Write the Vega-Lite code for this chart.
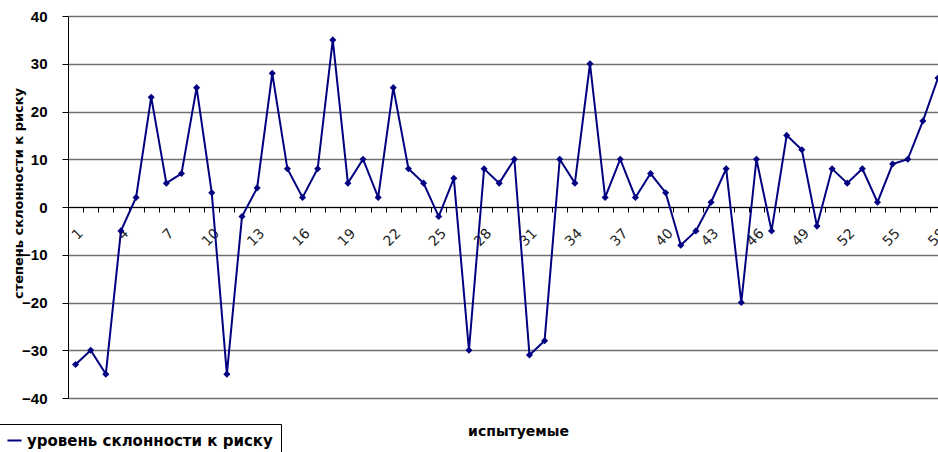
{
  "$schema": "https://vega.github.io/schema/vega-lite/v6.json",
  "autosize": {"type": "none"},
  "padding": {"left": 68, "top": 16, "right": 0, "bottom": 54},
  "width": 870,
  "height": 382,
  "data": {
    "values": [
      {"n": 1, "risk": -33}, {"n": 2, "risk": -30}, {"n": 3, "risk": -35},
      {"n": 4, "risk": -5}, {"n": 5, "risk": 2}, {"n": 6, "risk": 23},
      {"n": 7, "risk": 5}, {"n": 8, "risk": 7}, {"n": 9, "risk": 25},
      {"n": 10, "risk": 3}, {"n": 11, "risk": -35}, {"n": 12, "risk": -2},
      {"n": 13, "risk": 4}, {"n": 14, "risk": 28}, {"n": 15, "risk": 8},
      {"n": 16, "risk": 2}, {"n": 17, "risk": 8}, {"n": 18, "risk": 35},
      {"n": 19, "risk": 5}, {"n": 20, "risk": 10}, {"n": 21, "risk": 2},
      {"n": 22, "risk": 25}, {"n": 23, "risk": 8}, {"n": 24, "risk": 5},
      {"n": 25, "risk": -2}, {"n": 26, "risk": 6}, {"n": 27, "risk": -30},
      {"n": 28, "risk": 8}, {"n": 29, "risk": 5}, {"n": 30, "risk": 10},
      {"n": 31, "risk": -31}, {"n": 32, "risk": -28}, {"n": 33, "risk": 10},
      {"n": 34, "risk": 5}, {"n": 35, "risk": 30}, {"n": 36, "risk": 2},
      {"n": 37, "risk": 10}, {"n": 38, "risk": 2}, {"n": 39, "risk": 7},
      {"n": 40, "risk": 3}, {"n": 41, "risk": -8}, {"n": 42, "risk": -5},
      {"n": 43, "risk": 1}, {"n": 44, "risk": 8}, {"n": 45, "risk": -20},
      {"n": 46, "risk": 10}, {"n": 47, "risk": -5}, {"n": 48, "risk": 15},
      {"n": 49, "risk": 12}, {"n": 50, "risk": -4}, {"n": 51, "risk": 8},
      {"n": 52, "risk": 5}, {"n": 53, "risk": 8}, {"n": 54, "risk": 1},
      {"n": 55, "risk": 9}, {"n": 56, "risk": 10}, {"n": 57, "risk": 18},
      {"n": 58, "risk": 27}
    ]
  },
  "mark": {
    "type": "line",
    "strokeWidth": 2,
    "point": {"shape": "diamond", "size": 50, "filled": true, "opacity": 1}
  },
  "encoding": {
    "x": {
      "field": "n",
      "type": "quantitative",
      "title": "испытуемые",
      "scale": {"domain": [0.5, 58], "nice": false, "zero": false},
      "axis": {
        "offset": -191,
        "values": [0.5, 1, 1.5, 2.5, 3.5, 4, 4.5, 5.5, 6.5, 7, 7.5, 8.5, 9.5, 10, 10.5, 11.5, 12.5, 13, 13.5, 14.5, 15.5, 16, 16.5, 17.5, 18.5, 19, 19.5, 20.5, 21.5, 22, 22.5, 23.5, 24.5, 25, 25.5, 26.5, 27.5, 28, 28.5, 29.5, 30.5, 31, 31.5, 32.5, 33.5, 34, 34.5, 35.5, 36.5, 37, 37.5, 38.5, 39.5, 40, 40.5, 41.5, 42.5, 43, 43.5, 44.5, 45.5, 46, 46.5, 47.5, 48.5, 49, 49.5, 50.5, 51.5, 52, 52.5, 53.5, 54.5, 55, 55.5, 56.5, 57.5, 58],
        "format": ".1f",
        "labelExpr": "replace(datum.label, '.0', '')",
        "labelOpacity": {"condition": {"test": "datum.value % 1 !== 0", "value": 0}, "value": 1},
        "tickOpacity": {"condition": {"test": "datum.value % 1 === 0", "value": 0}, "value": 1},
        "tickSize": 5,
        "tickColor": "black",
        "domainColor": "black",
        "grid": false,
        "labelAngle": -45,
        "labelPadding": 14,
        "labelFontSize": 14,
        "labelColor": "#222",
        "labelOverlap": false,
        "labelFlush": false,
        "labelBound": false,
        "titleX": 450,
        "titleY": 224,
        "titleBaseline": "middle",
        "titleFontSize": 14,
        "titleFontWeight": "bold"
      }
    },
    "y": {
      "field": "risk",
      "type": "quantitative",
      "title": "степень склонности к риску",
      "scale": {"domain": [-40, 40], "nice": false},
      "axis": {
        "values": [-40, -30, -20, -10, 0, 10, 20, 30, 40],
        "grid": true,
        "gridColor": "#707070",
        "gridWidth": 1.3,
        "domainColor": "black",
        "tickColor": "black",
        "tickSize": 6,
        "labelFont": "Liberation Sans",
        "labelFontWeight": "bold",
        "labelFontSize": 15,
        "labelColor": "black",
        "labelPadding": 15,
        "titleFontSize": 13,
        "titleFontWeight": "bold",
        "titleColor": "black",
        "titleY": 177,
        "titleX": -50,
        "titleBaseline": "middle"
      }
    },
    "color": {
      "datum": "уровень склонности к риску",
      "type": "nominal",
      "scale": {"range": ["#000080"]},
      "legend": {
        "title": null,
        "orient": "none",
        "legendX": -70,
        "legendY": 408,
        "symbolType": "stroke",
        "symbolStrokeWidth": 2,
        "symbolSize": 200,
        "strokeColor": "black",
        "fillColor": "white",
        "padding": 8,
        "labelFontSize": 15,
        "labelFontWeight": "bold",
        "labelColor": "black",
        "labelLimit": 400
      }
    }
  },
  "config": {
    "font": "DejaVu Sans",
    "view": {"stroke": null}
  }
}
